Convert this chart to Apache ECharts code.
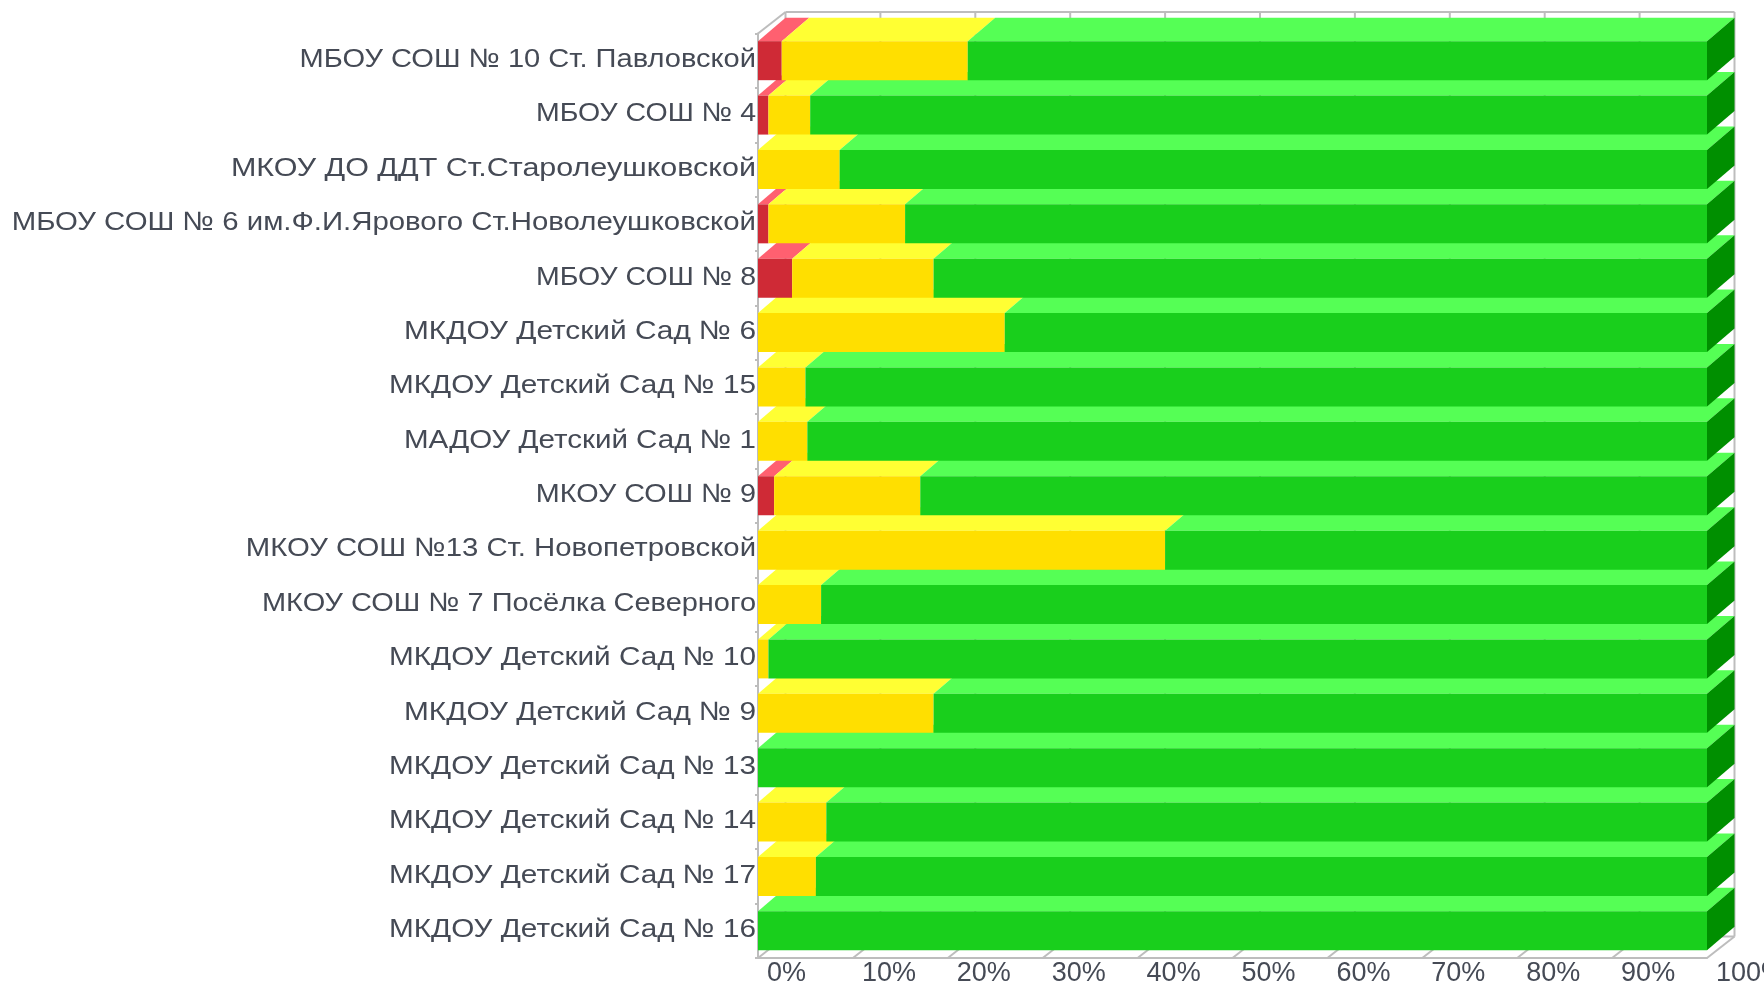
<!DOCTYPE html>
<html>
<head>
<meta charset="utf-8">
<style>html,body{margin:0;padding:0;background:#fff}#c{width:1764px;height:984px;filter:blur(0.5px)}</style>
<script src="https://cdn.jsdelivr.net/npm/echarts@6/dist/echarts.min.js"></script>
</head>
<body>
<div id="c"></div>
<script>
const categories = [
  "МБОУ СОШ № 10 Ст. Павловской","МБОУ СОШ № 4","МКОУ ДО ДДТ Ст.Старолеушковской",
  "МБОУ СОШ № 6 им.Ф.И.Ярового Ст.Новолеушковской","МБОУ СОШ № 8","МКДОУ Детский Сад № 6",
  "МКДОУ Детский Сад № 15","МАДОУ Детский Сад № 1","МКОУ СОШ № 9",
  "МКОУ СОШ №13 Ст. Новопетровской","МКОУ СОШ № 7 Посёлка Северного","МКДОУ Детский Сад № 10",
  "МКДОУ Детский Сад № 9","МКДОУ Детский Сад № 13","МКДОУ Детский Сад № 14",
  "МКДОУ Детский Сад № 17","МКДОУ Детский Сад № 16"
];
const redValues    = [2.5,1.1,0,1.1,3.6,0,0,0,1.7,0,0,0,0,0,0,0,0];
const yellowValues = [19.6,4.4,8.6,14.4,14.9,26,5,5.2,15.4,42.9,6.65,1.1,18.5,0,7.2,6.1,0];
const greenValues  = [77.9,94.5,91.4,84.5,81.5,74,95,94.8,82.9,57.1,93.35,98.9,81.5,100,92.8,93.9,100];
const xTicks = [0,10,20,30,40,50,60,70,80,90,100];

const DX = 27.5, DY = 23.5, BAR_H = 39, WALL_DY = 21.5;
const GRID = '#bdbdbd', TEXT = '#454a55', FONT = 'Liberation Sans';
const labelStretch = [1.097,1.075,1.15,1.108,1.075,1.126,1.121,1.115,1.086,1.106,1.093,1.121,1.126,1.121,1.121,1.121,1.121];

function stackData(vals, prev) {
  return vals.map((v, i) => {
    const start = prev.reduce((s, a) => s + a[i], 0);
    return [start, start + v, i];
  });
}
function bar3d(front, top, side) {
  return function (params, api) {
    const s = api.value(0), e = api.value(1), i = api.value(2);
    if (e - s <= 0) return null;
    const p0 = api.coord([s, i]), p1 = api.coord([e, i]);
    const x0 = p0[0], x1 = p1[0], y0 = p0[1] - BAR_H / 2, y1 = y0 + BAR_H;
    const z2 = 100 - i;
    const kids = [
      {type:'polygon', z2, shape:{points:[[x0,y0],[x1,y0],[x1+DX,y0-DY],[x0+DX,y0-DY]]}, style:{fill:top}},
      {type:'rect', z2, shape:{x:x0,y:y0,width:x1-x0,height:BAR_H}, style:{fill:front}}
    ];
    if (e >= 99.99) kids.push({type:'polygon', z2, shape:{points:[[x1,y0],[x1+DX,y0-DY],[x1+DX,y1-DY],[x1,y1]]}, style:{fill:side}});
    return {type:'group', children:kids};
  };
}
function frame(params, api) {
  const cs = params.coordSys, v = api.value(0);
  const x = api.coord([v, 0])[0], b = cs.y + cs.height, t = cs.y;
  const ln = (a,c,d,f) => ({type:'line', shape:{x1:a,y1:c,x2:d,y2:f}, style:{stroke:GRID,lineWidth:2,fill:null}});
  const kids = [ln(x,b,x+DX,b-WALL_DY), ln(x+DX,b-WALL_DY,x+DX,t-WALL_DY)];
  if (v === 0) kids.push(ln(x,t,x+DX,t-WALL_DY), ln(x+DX,t-WALL_DY,x+DX+cs.width,t-WALL_DY), ln(x+DX,b-WALL_DY,x+DX+cs.width,b-WALL_DY));
  return {type:'group', children:kids};
}
function rowLabel(params, api) {
  const i = api.value(0), p = api.coord([0, i]);
  return {type:'text', x:p[0]-2, y:p[1]-1, scaleX:labelStretch[i], style:{text:categories[i], x:0, y:0, align:'right', verticalAlign:'middle', fill:TEXT, font:'26.5px "'+FONT+'"'}};
}

const common = {type:'custom', coordinateSystem:'cartesian2d', silent:true, clip:false, z:3,
  encode:{x:[0,1], y:2}};
const chart = echarts.init(document.getElementById('c'), null, {renderer:'canvas'});
chart.setOption({
  animation:false,
  backgroundColor:'#fff',
  grid:{left:758, top:33.5, width:949, height:924.5, containLabel:false, outerBoundsMode:'none'},
  xAxis:{type:'value', min:0, max:100, interval:10, position:'bottom',
    axisLine:{show:true, onZero:false, lineStyle:{color:GRID, width:2}},
    axisTick:{show:false}, splitLine:{show:false},
    axisLabel:{formatter:'{value}%', color:TEXT, fontFamily:FONT, fontSize:27, align:'left', margin:2, padding:[0,0,0,9], hideOverlap:false}
  },
  yAxis:{type:'category', inverse:true, data:categories, boundaryGap:true,
    axisLine:{show:true, lineStyle:{color:GRID, width:2}},
    axisTick:{show:true, length:3, lineStyle:{color:GRID, width:2}},
    splitLine:{show:false},
    axisLabel:{show:false}
  },
  series:[
    {type:'custom', coordinateSystem:'cartesian2d', silent:true, clip:false, z:1, encode:{x:0}, renderItem:frame, data:xTicks.map(v=>[v])},
    {type:'custom', coordinateSystem:'cartesian2d', silent:true, clip:false, z:4, encode:{y:0}, renderItem:rowLabel, data:categories.map((c,i)=>[i])},
    Object.assign({}, common, {name:'red', renderItem:bar3d('#cf2a36','#ff6070','#8f1a22'), data:stackData(redValues,[])}),
    Object.assign({}, common, {name:'yellow', renderItem:bar3d('#ffdf00','#ffff33','#b09a00'), data:stackData(yellowValues,[redValues])}),
    Object.assign({}, common, {name:'green', renderItem:bar3d('#19cf1c','#55ff55','#008f00'), data:stackData(greenValues,[redValues,yellowValues])})
  ]
});
</script>
</body>
</html>
